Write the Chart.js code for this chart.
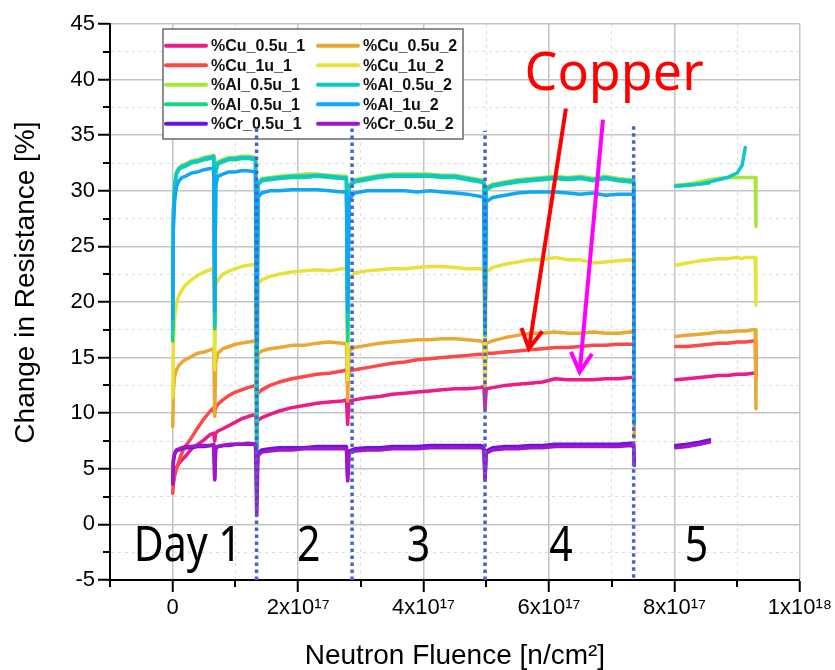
<!DOCTYPE html>
<html>
<head>
<meta charset="utf-8">
<script src="https://cdn.jsdelivr.net/npm/chart.js@4.4.1/dist/chart.umd.min.js"></script>
<style>
  html, body { margin: 0; padding: 0; background: #ffffff; }
  canvas { display: block; }
</style>
</head>
<body>
<canvas id="c" width="835" height="670"></canvas>
<script>
// ---------------- DATA ----------------
// Neutron fluence [n/cm^2] sample positions (shared by all series)
const fluence = [
  0, 0.01e17, 0.03e17, 0.06e17, 0.1e17, 0.15e17, 0.2e17, 0.3e17, 0.4e17, 0.5e17, 0.6e17, 0.655e17,
  0.67e17,
  0.685e17, 0.72e17, 0.8e17, 0.9e17, 1.0e17, 1.1e17, 1.2e17, 1.32e17,
  1.34e17,
  1.36e17, 1.42e17, 1.55e17, 1.7e17, 1.9e17, 2.1e17, 2.3e17, 2.5e17, 2.7e17, 2.77e17,
  2.79e17,
  2.81e17, 2.9e17, 3.1e17, 3.3e17, 3.5e17, 3.7e17, 3.9e17, 4.1e17, 4.3e17, 4.5e17, 4.7e17, 4.9e17, 4.96e17,
  4.98e17,
  5.0e17, 5.1e17, 5.3e17, 5.5e17, 5.7e17, 5.9e17, 6.1e17, 6.3e17, 6.5e17, 6.7e17, 6.9e17, 7.1e17, 7.3e17, 7.35e17,
  7.36e17,
  7.7e17,
  8.02e17, 8.2e17, 8.4e17, 8.56e17, 8.7e17, 8.85e17, 9.0e17, 9.08e17, 9.13e17, 9.25e17, 9.29e17, 9.3e17
];

const cu05u1 = [
  3.8, 4.3, 4.7, 5.1, 5.5, 5.8, 6.1, 6.8, 7.2, 7.6, 8.1, 8.2,
  7.5,
  8.2, 8.4, 8.6, 8.9, 9.2, 9.5, 9.7, 9.9,
  8.6,
  9.4, 9.6, 9.9, 10.2, 10.5, 10.7, 10.9, 11.0, 11.1, 11.2,
  9.0,
  11.1, 11.2, 11.4, 11.5, 11.7, 11.8, 11.9, 12.0, 12.1, 12.2, 12.2, 12.3, 12.4,
  10.4,
  12.2, 12.3, 12.5, 12.6, 12.7, 12.8, 13.1, 13.0, 13.0, 13.0, 13.1, 13.1, 13.2, 13.2,
  13.2,
  null,
  13.0, 13.1, 13.2, 13.3, 13.4, 13.4, 13.5, 13.5, 13.5, 13.6, 13.6, null
];
const cu1u1 = [
  2.8, 3.6, 4.3, 5.0, 5.7, 6.5, 7.0, 7.8, 8.7, 9.5, 10.2, 10.5,
  10.0,
  10.5, 10.8, 11.2, 11.6, 11.9, 12.1, 12.3, 12.5,
  11.4,
  11.8, 12.1, 12.5, 12.8, 13.1, 13.3, 13.5, 13.6, 13.8, 13.9,
  12.8,
  13.8, 13.9, 14.1, 14.3, 14.5, 14.6, 14.8, 14.9, 15.0, 15.1, 15.2, 15.3, 15.3,
  14.6,
  15.4, 15.4, 15.5, 15.6, 15.7, 15.8, 15.9, 15.9, 16.0, 16.1, 16.1, 16.2, 16.2, 16.2,
  15.6,
  null,
  16.0, 16.0, 16.1, 16.2, 16.3, 16.3, 16.4, 16.4, 16.4, 16.5, 16.5, 13.2
];
const cu05u2 = [
  8.8, 12.0, 13.3, 13.9, 14.3, 14.6, 14.8, 15.1, 15.4, 15.5, 15.7, 15.8,
  9.7,
  14.5, 15.4, 15.8, 16.0, 16.2, 16.3, 16.4, 16.5,
  11.4,
  15.3, 15.6, 15.8, 15.9, 16.1, 16.1, 16.3, 16.4, 16.3, 16.3,
  11.1,
  15.6, 15.9, 16.1, 16.3, 16.4, 16.5, 16.6, 16.6, 16.7, 16.7, 16.6, 16.5, 16.4,
  12.4,
  16.3, 16.5, 16.8, 17.0, 17.2, 17.2, 17.3, 17.2, 17.2, 17.3, 17.2, 17.2, 17.3, 17.3,
  7.8,
  null,
  16.9, 17.0, 17.1, 17.2, 17.3, 17.3, 17.4, 17.4, 17.4, 17.5, 17.5, 10.4
];
const cu1u2 = [
  11.4, 16.5, 18.6, 19.9, 20.6, 21.1, 21.5, 22.0, 22.4, 22.7, 22.9, 23.0,
  13.9,
  21.5, 22.0, 22.5, 22.8, 23.0, 23.2, 23.3, 23.4,
  1.5,
  21.6, 22.0, 22.3, 22.5, 22.7, 22.8, 22.9, 22.8, 23.0, 23.0,
  13.0,
  22.2, 22.6, 22.8, 22.9, 23.0, 23.0, 23.1, 23.2, 23.2, 23.1, 23.0, 23.0, 22.9,
  12.8,
  22.7, 23.1, 23.4, 23.6, 23.8, 23.8, 24.0, 23.8, 23.8, 23.5, 23.6, 23.7, 23.8, 23.7,
  9.5,
  null,
  23.3, 23.5, 23.7, 23.8, 23.9, 23.9, 24.0, 23.9, 24.0, 24.0, 24.0, 19.7
];
const al05u1a = [
  17.5, 28.2, 30.7, 31.7, 32.1, 32.3, 32.4, 32.7, 32.8, 33.0, 33.1, 33.2,
  18.0,
  31.9, 32.6, 32.8, 33.0, 33.0, 33.1, 33.1, 33.0,
  18.0,
  30.7, 31.1, 31.2, 31.3, 31.4, 31.5, 31.5, 31.4, 31.3, 31.3,
  18.0,
  30.5, 31.0, 31.2, 31.4, 31.5, 31.5, 31.5, 31.5, 31.4, 31.4, 31.2, 31.0, 30.9,
  18.0,
  30.3, 30.6, 30.8, 31.0, 31.1, 31.2, 31.3, 31.2, 31.3, 31.1, 31.3, 31.1, 31.0, 31.0,
  22.0,
  null,
  30.5, 30.6, 30.8, 31.0, 31.1, 31.2, 31.2, 31.2, 31.2, 31.2, 31.2, 26.8
];
const al05u1b = [
  16.5, 27.5, 30.3, 31.5, 31.9, 32.1, 32.2, 32.5, 32.6, 32.8, 32.9, 33.0,
  17.6,
  31.6, 32.4, 32.6, 32.8, 32.8, 32.9, 32.9, 32.8,
  16.0,
  30.5, 30.9, 31.0, 31.1, 31.2, 31.2, 31.3, 31.2, 31.1, 31.1,
  16.5,
  30.3, 30.8, 31.0, 31.2, 31.3, 31.3, 31.3, 31.3, 31.2, 31.2, 31.0, 30.8, 30.7,
  17.0,
  30.1, 30.4, 30.6, 30.8, 30.9, 31.0, 31.1, 31.0, 31.1, 30.9, 31.1, 30.9, 30.8, 30.8,
  15.0,
  null,
  30.4, 30.5, 30.6, 30.7, null, null, null, null, null, null, null, null
];
const al05u2 = [
  17.5, 28.0, 30.5, 31.6, 32.0, 32.2, 32.3, 32.6, 32.7, 32.9, 33.0, 33.1,
  18.0,
  31.8, 32.5, 32.7, 32.9, 32.9, 33.0, 33.0, 32.9,
  2.0,
  30.6, 31.0, 31.1, 31.2, 31.3, 31.3, 31.4, 31.3, 31.2, 31.2,
  17.5,
  30.4, 30.9, 31.1, 31.3, 31.4, 31.4, 31.4, 31.4, 31.3, 31.3, 31.1, 30.9, 30.8,
  17.5,
  30.2, 30.5, 30.7, 30.9, 31.0, 31.1, 31.2, 31.1, 31.2, 31.0, 31.2, 31.0, 30.9, 30.9,
  20.0,
  null,
  30.4, 30.5, 30.6, 30.8, 31.0, 31.2, 31.6, 32.3, 33.9, null, null, null
];
const al1u2 = [
  18.5, 26.5, 29.0, 30.4, 30.9, 31.2, 31.3, 31.6, 31.7, 31.9, 32.0, 32.0,
  19.2,
  30.5, 31.3, 31.5, 31.7, 31.7, 31.8, 31.8, 31.7,
  16.0,
  29.4, 29.8, 30.0, 30.0, 30.1, 30.1, 30.1, 30.0, 29.9, 29.9,
  19.2,
  29.2, 29.8, 30.0, 30.0, 30.0, 30.0, 29.9, 30.0, 29.9, 29.8, 29.7, 29.5, 29.4,
  18.0,
  29.0, 29.4, 29.6, 29.8, 29.9, 29.9, 29.9, 29.8, 29.7, 29.8, 29.6, 29.7, 29.7, 29.7,
  9.0,
  null,
  null, null, null, null, null, null, null, null, null, null, null, null
];
const cr05u1 = [
  3.8, 5.6, 6.3, 6.6, 6.7, 6.8, 6.9, 6.9, 7.0, 7.0, 7.1, 7.1,
  4.1,
  6.8, 7.0, 7.1, 7.1, 7.2, 7.2, 7.2, 7.2,
  4.5,
  6.4, 6.7, 6.8, 6.9, 6.9, 6.9, 7.0, 7.0, 7.0, 7.0,
  4.0,
  6.6, 6.8, 6.9, 6.9, 7.0, 7.0, 7.0, 7.1, 7.1, 7.1, 7.1, 7.1, 7.0,
  4.2,
  6.6, 6.9, 7.0, 7.0, 7.1, 7.1, 7.2, 7.2, 7.2, 7.2, 7.2, 7.2, 7.3, 7.2,
  5.5,
  null,
  7.1, 7.2, 7.4, 7.6, null, null, null, null, null, null, null, null
];
const cr05u2 = [
  3.6, 5.8, 6.4, 6.7, 6.8, 6.9, 7.0, 7.0, 7.1, 7.1, 7.1, 7.2,
  4.0,
  6.9, 7.0, 7.1, 7.2, 7.2, 7.2, 7.3, 7.2,
  0.8,
  6.2, 6.5, 6.6, 6.7, 6.7, 6.8, 6.8, 6.8, 6.8, 6.8,
  3.9,
  6.4, 6.6, 6.7, 6.7, 6.8, 6.8, 6.8, 6.9, 6.9, 6.9, 6.9, 6.9, 6.8,
  4.0,
  6.4, 6.7, 6.8, 6.8, 6.9, 6.9, 7.0, 7.0, 7.0, 7.0, 7.0, 7.0, 7.1, 7.0,
  5.3,
  null,
  6.9, 7.0, 7.2, 7.4, null, null, null, null, null, null, null, null
];

const seriesNames = ['%Cu_0.5u_1', '%Cu_1u_1', '%Cu_0.5u_2', '%Cu_1u_2', '%Al_0.5u_1',
                     '%Al_0.5u_1', '%Al_0.5u_2', '%Al_1u_2', '%Cr_0.5u_1', '%Cr_0.5u_2'];
const seriesValues = [cu05u1, cu1u1, cu05u2, cu1u2, al05u1a, al05u1b, al05u2, al1u2, cr05u1, cr05u2];

// Day boundaries (dotted lines): fluence and top value
const dayBoundaryFluence = [1.337e17, 2.86e17, 4.98e17, 7.35e17];
const dayBoundaryTop = [35.6, 35.6, 35.4, 36.0];
const dayBoundaryBottom = [-5, -5, -5, -4.8];

// Axis ticks
const xTickValues = [0, 2e17, 4e17, 6e17, 8e17, 1e18];
const xTickLabels = ['0', '2x10\u00B9\u2077', '4x10\u00B9\u2077', '6x10\u00B9\u2077', '8x10\u00B9\u2077', '1x10\u00B9\u2078'];
const yTickValues = [-5, 0, 5, 10, 15, 20, 25, 30, 35, 40, 45];
const yTickLabels = ['-5', '0', '5', '10', '15', '20', '25', '30', '35', '40', '45'];

// Annotation texts
const dayLabels = ['Day 1', '2', '3', '4', '5'];
const dayLabelFluence = [0.24e17, 2.17e17, 3.92e17, 6.19e17, 8.35e17];
const copperLabel = 'Copper';

// ---------------- STYLE ----------------
const seriesColors = ['#ec1c86', '#fd4848', '#e8a832', '#e6e23a', '#a6e63a',
                      '#18d688', '#0cc8c8', '#10a8f4', '#6a14e0', '#a016c8'];
const AX_FONT = '"Liberation Sans", Arial, Helvetica, sans-serif';

function isMajorX(v) { return Math.abs(Math.round(v / 1e17)) % 2 === 0; }
function isMajorY(v) { return Math.abs(Math.round(v / 2.5)) % 2 === 0; }

const datasets = seriesValues.map((vals, i) => ({
  label: seriesNames[i],
  data: fluence.map((f, k) => ({ x: f, y: vals[k] })),
  borderColor: seriesColors[i],
  backgroundColor: seriesColors[i],
  borderWidth: 3.5,
  pointRadius: 0,
  tension: 0,
  spanGaps: false,
  borderJoinStyle: 'round',
  borderCapStyle: 'round',
  order: 20 - i
}));
dayBoundaryFluence.forEach((f, i) => {
  datasets.push({
    label: 'boundary' + (i + 1),
    data: [{ x: f, y: dayBoundaryBottom[i] }, { x: f, y: dayBoundaryTop[i] }],
    borderColor: '#4a62cf',
    borderWidth: 3.5,
    borderDash: [3.5, 3.5],
    borderCapStyle: 'butt',
    pointRadius: 0,
    order: 0
  });
});

// Inside legend (2 columns, like the reference)
const insideLegend = {
  id: 'insideLegend',
  beforeDatasetsDraw(chart) {
    const { ctx, chartArea } = chart;
    const left = chartArea.left + 53, top = chartArea.top + 5, w = 300, h = 110;
    ctx.save();
    ctx.fillStyle = '#ffffff';
    ctx.fillRect(left, top, w, h);
    ctx.strokeStyle = '#6a6a6a';
    ctx.lineWidth = 1.5;
    ctx.strokeRect(left, top, w, h);
    const rows = [[0, 2], [1, 3], [4, 6], [5, 7], [8, 9]];
    ctx.font = 'bold 16px ' + AX_FONT;
    ctx.textBaseline = 'middle';
    ctx.textAlign = 'left';
    rows.forEach((pair, r) => {
      const y = top + 16.7 + r * 19.5;
      pair.forEach((di, c) => {
        const ds = chart.data.datasets[di];
        const x0 = left + 3 + c * 152;
        ctx.strokeStyle = ds.borderColor;
        ctx.lineWidth = 4;
        ctx.lineCap = 'round';
        ctx.beginPath(); ctx.moveTo(x0, y); ctx.lineTo(x0 + 40, y); ctx.stroke();
        ctx.fillStyle = '#111111';
        ctx.fillText(ds.label, x0 + 45, y + 1);
      });
    });
    ctx.restore();
  }
};

// Annotations: day labels, "Copper" text and arrows
const annotations = {
  id: 'annotations',
  afterDatasetsDraw(chart) {
    const { ctx } = chart;
    const xs = chart.scales.x, ys = chart.scales.y;
    ctx.save();
    // Day labels
    ctx.fillStyle = '#000000';
    ctx.font = '50px "Noto Sans", "Open Sans", sans-serif';
    ctx.textAlign = 'center';
    ctx.textBaseline = 'alphabetic';
    dayLabels.forEach((t, i) => {
      ctx.save();
      ctx.translate(xs.getPixelForValue(dayLabelFluence[i]), ys.getPixelForValue(-3.25));
      ctx.scale(0.82, 1);
      ctx.fillText(t, 0, 0);
      ctx.restore();
    });
    // Copper
    ctx.fillStyle = '#ff0000';
    ctx.font = '52px "Noto Sans", "Open Sans", sans-serif';
    ctx.textAlign = 'left';
    ctx.fillText(copperLabel, xs.getPixelForValue(5.61e17), ys.getPixelForValue(39.1));
    // Arrows
    const arrows = [
      { from: [6.27e17, 37.4], to: [5.68e17, 15.8], color: '#ff0000' },
      { from: [6.86e17, 36.4], to: [6.49e17, 13.7], color: '#ff00ff' }
    ];
    arrows.forEach(a => {
      const x1 = xs.getPixelForValue(a.from[0]), y1 = ys.getPixelForValue(a.from[1]);
      const x2 = xs.getPixelForValue(a.to[0]), y2 = ys.getPixelForValue(a.to[1]);
      const ang = Math.atan2(y2 - y1, x2 - x1);
      ctx.strokeStyle = a.color;
      ctx.lineWidth = 4;
      ctx.lineCap = 'butt';
      ctx.lineJoin = 'miter';
      ctx.beginPath(); ctx.moveTo(x1, y1); ctx.lineTo(x2, y2); ctx.stroke();
      const L = 22, spread = 0.5;
      ctx.beginPath();
      ctx.moveTo(x2 - L * Math.cos(ang - spread), y2 - L * Math.sin(ang - spread));
      ctx.lineTo(x2, y2);
      ctx.lineTo(x2 - L * Math.cos(ang + spread), y2 - L * Math.sin(ang + spread));
      ctx.stroke();
    });
    ctx.restore();
  }
};

// Short minor tick marks
const minorTicks = {
  id: 'minorTicks',
  afterDraw(chart) {
    const { ctx } = chart;
    const xs = chart.scales.x, ys = chart.scales.y;
    ctx.save();
    ctx.strokeStyle = '#000000';
    ctx.lineWidth = 2;
    xs.ticks.forEach(t => {
      if (!isMajorX(t.value)) {
        const p = Math.round(xs.getPixelForValue(t.value));
        ctx.beginPath(); ctx.moveTo(p, xs.top); ctx.lineTo(p, xs.top + 7); ctx.stroke();
      }
    });
    ys.ticks.forEach(t => {
      if (!isMajorY(t.value)) {
        const p = Math.round(ys.getPixelForValue(t.value));
        ctx.beginPath(); ctx.moveTo(ys.right - 7, p); ctx.lineTo(ys.right, p); ctx.stroke();
      }
    });
    ctx.restore();
  }
};

new Chart(document.getElementById('c'), {
  type: 'line',
  data: { datasets },
  options: {
    responsive: false,
    animation: false,
    events: [],
    layout: { padding: { top: 24, right: 35, left: 0, bottom: 0 } },
    plugins: { legend: { display: false }, tooltip: { enabled: false } },
    scales: {
      x: {
        type: 'linear',
        min: -1e17,
        max: 1e18,
        afterFit(s) { s.height = 90; },
        afterBuildTicks(s) {
          const t = [];
          for (let k = -1; k <= 10; k++) t.push({ value: k * 1e17 });
          s.ticks = t;
        },
        ticks: {
          autoSkip: false,
          maxRotation: 0,
          padding: 3,
          color: '#000000',
          font: { family: AX_FONT, size: 22 },
          callback(v) {
            const i = xTickValues.findIndex(tv => Math.abs(tv - v) < 1e15);
            return i >= 0 ? xTickLabels[i] : '';
          }
        },
        grid: {
          color: c => (c.tick && isMajorX(c.tick.value)) ? '#c4c4c4' : '#dcdcdc',
          lineWidth: c => (c.tick && isMajorX(c.tick.value)) ? 1.5 : 1,
          tickColor: c => (c.tick && isMajorX(c.tick.value)) ? '#000000' : 'rgba(0,0,0,0)',
          tickLength: 12,
          tickWidth: 2
        },
        border: {
          display: true,
          color: '#000000',
          width: 2,
          dash: c => (c.tick && !isMajorX(c.tick.value)) ? [3, 4] : []
        },
        title: {
          display: true,
          text: 'Neutron Fluence [n/cm\u00B2]',
          color: '#000000',
          font: { family: AX_FONT, size: 28 },
          padding: { top: 0, bottom: -3 }
        }
      },
      y: {
        type: 'linear',
        min: -5,
        max: 45,
        afterFit(s) { s.width = 110; },
        afterBuildTicks(s) {
          const t = [];
          for (let k = -2; k <= 18; k++) t.push({ value: k * 2.5 });
          s.ticks = t;
        },
        ticks: {
          autoSkip: false,
          padding: 3,
          color: '#000000',
          font: { family: AX_FONT, size: 22 },
          callback(v) {
            const i = yTickValues.findIndex(tv => Math.abs(tv - v) < 1e-6);
            return i >= 0 ? yTickLabels[i] : '';
          }
        },
        grid: {
          color: c => (c.tick && isMajorY(c.tick.value)) ? '#c4c4c4' : '#dcdcdc',
          lineWidth: c => (c.tick && isMajorY(c.tick.value)) ? 1.5 : 1,
          tickColor: c => (c.tick && isMajorY(c.tick.value)) ? '#000000' : 'rgba(0,0,0,0)',
          tickLength: 12,
          tickWidth: 2
        },
        border: {
          display: true,
          color: '#000000',
          width: 2,
          dash: c => (c.tick && !isMajorY(c.tick.value)) ? [3, 4] : []
        },
        title: {
          display: true,
          text: '     Change in Resistance [%]',
          color: '#000000',
          font: { family: AX_FONT, size: 28 },
          padding: { top: 9, bottom: 0 }
        }
      }
    }
  },
  plugins: [insideLegend, annotations, minorTicks]
});
</script>
</body>
</html>
